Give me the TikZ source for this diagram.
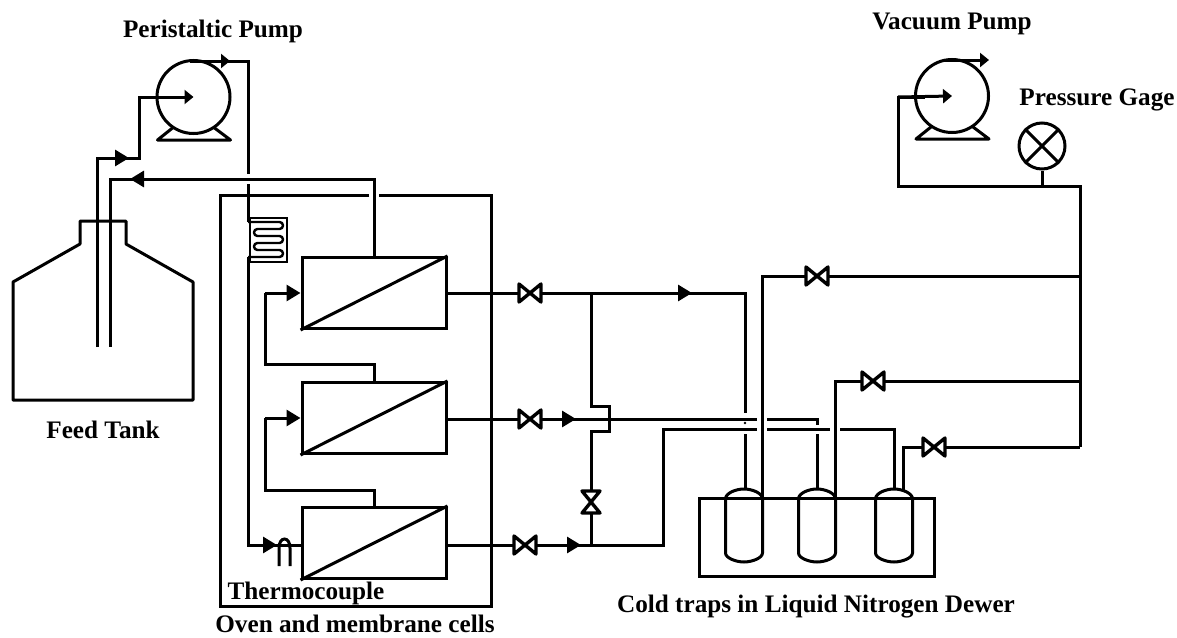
\documentclass[tikz,border=0pt]{standalone}
\usepackage{fontspec}
\setmainfont{Liberation Serif}
\usetikzlibrary{arrows.meta}
\tikzset{
  pipe/.style={line width=1.5pt},
  flow/.style={pipe,-{Triangle[length=7pt,width=8pt]}},
  pumpflow/.style={pipe,-{Triangle[length=4.5pt,width=7pt]}},
  cell/.style={draw,line width=1.5pt,minimum width=72pt,minimum height=35.5pt,inner sep=0pt},
  pump/.style={draw,circle,line width=1.5pt,minimum size=36.5pt,inner sep=0pt},
  gage/.style={draw,circle,line width=1.5pt,minimum size=23pt,inner sep=0pt},
  tag/.style={font=\fontsize{12.6}{14}\selectfont\bfseries,inner sep=0pt},
  valve/.pic={\filldraw[line width=1.7pt,fill=white,line join=round] (-11,-9)--(11,9)--(11,-9)--(-11,9)--cycle;},
  pumpbase/.pic={\draw[pipe,line join=round] (-21,31)--(-36,43)--(37,43)--(21,31);},
  trap/.pic={\draw[pipe] (-18.5,9)--(-18.5,63) .. controls (-18.5,68) and (-8,72) .. (0,72) .. controls (8,72) and (18.5,68) .. (18.5,63)--(18.5,9) .. controls (18.5,3) and (8,-1) .. (0,-1) .. controls (-8,-1) and (-18.5,3) .. (-18.5,9);}
}
\begin{document}
\begin{tikzpicture}[x=0.5pt,y=-0.5pt]
\useasboundingbox (0,0) rectangle (1177,637);

% pumps and gage
\node[pump] (feedpump) at (193.5,97) {};
\pic at (feedpump) {pumpbase};
\node[pump] (vacpump) at (952,96) {};
\pic at (vacpump) {pumpbase};
\node[gage] (gage) at (1042,146) {};
\draw[pipe] (gage.north west)--(gage.south east);
\draw[pipe] (gage.north east)--(gage.south west);

% feed tank
\draw[pipe,line join=round] (80,221)--(126,221)--(126,244)--(193,282)--(193,400)--(13,400)--(13,282)--(80,244)--cycle;

% oven, with the break where the return line passes
\coordinate (ovenA) at (369,195);
\coordinate (ovenB) at (379,195);
\draw[pipe] (ovenA)--(220,195)--(220,606)--(491,606)--(491,195)--(ovenB);

% membrane cells
\node[cell] (cellA) at (374,293) {};
\node[cell] (cellB) at (374,418) {};
\node[cell] (cellC) at (374,543) {};
\foreach \c in {cellA,cellB,cellC}
  \draw[pipe] (\c.south west)--(\c.north east);

% feed line
\coordinate (dipA) at (97,347);
\coordinate (dipB) at (110,347);
\draw[flow] (dipA)--(97,158)--(129,158);
\draw[pipe] (125,158)--(139,158)--(139,97)--(170,97);
\draw[pumpflow] (139,97)--(feedpump.center);
\draw[pumpflow] (190,61)--(230,61);
\draw[pipe] (228,61)--(248,61)--(248,174);

% return line
\draw[flow] (cellA.north)--(374,179)--(130,179);
\draw[pipe] (135,179)--(110,179)--(dipB);

% heating coil
\node[draw,line width=1.4pt,minimum width=18.5pt,minimum height=22pt,inner sep=0pt] (coil) at (268.5,240) {};
\draw[pipe] (248,184)--(248,222);
\draw[line width=1.2pt,rounded corners=1.7pt] (248,222)--(283,222)--(283,229)--(254,229)--(254,236)--(283,236)--(283,243)--(254,243)--(254,250)--(283,250)--(283,257)--(248,257);
\coordinate (heatA) at (248,257);

% cell to cell
\coordinate (entC) at (277,545);
\draw[pipe] (heatA)--(248,545)--(cellC.west |- 248,545);
\draw[flow] (248,545)--(entC);
\draw[flow] (265,293)--(cellA.west);
\draw[pipe] (265,293)--(265,364)--(374,364)--(cellB.north);
\draw[flow] (265,418)--(cellB.west);
\draw[pipe] (265,418)--(265,490)--(374,490)--(cellC.north);

% thermocouple
\draw[pipe] (279,566)--(279,548) .. controls (279,536) and (290,536) .. (290,548)--(290,566);

% cell outlets
\coordinate (valveA) at (530,293);
\coordinate (valveB) at (530,419);
\coordinate (valveC) at (525,545);
\coordinate (valveD) at (591,502);
\coordinate (valveE) at (817,276);
\coordinate (valveF) at (873,381);
\coordinate (valveG) at (934,447);
\draw[pipe] (cellA.east)--(valveA)--(745,293)--(745,413);
\draw[flow] (650,293)--(692,293);
\draw[pipe] (cellB.east |- valveB)--(valveB)--(757,419);
\draw[flow] (550,419)--(576,419);
\draw[pipe] (767,419)--(817,419)--(817,425);
\draw[pipe] (cellC.east |- valveC)--(valveC)--(663,545)--(663,429)--(757,429);
\draw[flow] (545,545)--(581,545);
\draw[pipe] (767,429)--(830,429);
\draw[pipe] (840,429)--(894,429)--(894,489);

% bypass
\draw[pipe] (591,293)--(591,406)--(609,406)--(609,431)--(591,431)--(591,545);

% cold traps
\draw[pipe] (699,498) rectangle (934,576);
\pic at (744,490) {trap};
\pic at (817,490) {trap};
\pic at (894,490) {trap};
\draw[pipe] (745,434)--(745,489);
\draw[pipe] (817,434)--(817,489);
\fill (745,423) circle (1.3);

% vacuum side
\draw[pipe] (762,498)--(762,276)--(1080,276);
\draw[pipe] (835,498)--(835,381)--(1080,381);
\draw[pipe] (903,490)--(903,447)--(1080,447);
\draw[pipe] (1080,447)--(1080,186)--(898,186)--(898,97)--(925,97);
\draw[pumpflow] (898,97)--(vacpump.center);
\draw[pumpflow] (945,60)--(989,60);
\draw[pipe] (gage.south)--(1042,186);

% valves
\foreach \v in {valveA,valveB,valveC,valveE,valveF,valveG}
  \pic at (\v) {valve};
\pic[rotate=90] at (valveD) {valve};

% labels
\node[tag] (feedpumplabel) at (213,31) {Peristaltic Pump};
\node[tag] (vacpumplabel) at (952,24) {Vacuum Pump};
\node[tag] (gagelabel) at (1097,100) {Pressure Gage};
\node[tag] (tanklabel) at (103,430) {Feed Tank};
\node[tag] (couplelabel) at (306,593) {Thermocouple};
\node[tag] (ovenlabel) at (355,624) {Oven and membrane cells};
\node[tag] (traplabel) at (816,607) {Cold traps in Liquid Nitrogen Dewer};
\end{tikzpicture}
\end{document}
